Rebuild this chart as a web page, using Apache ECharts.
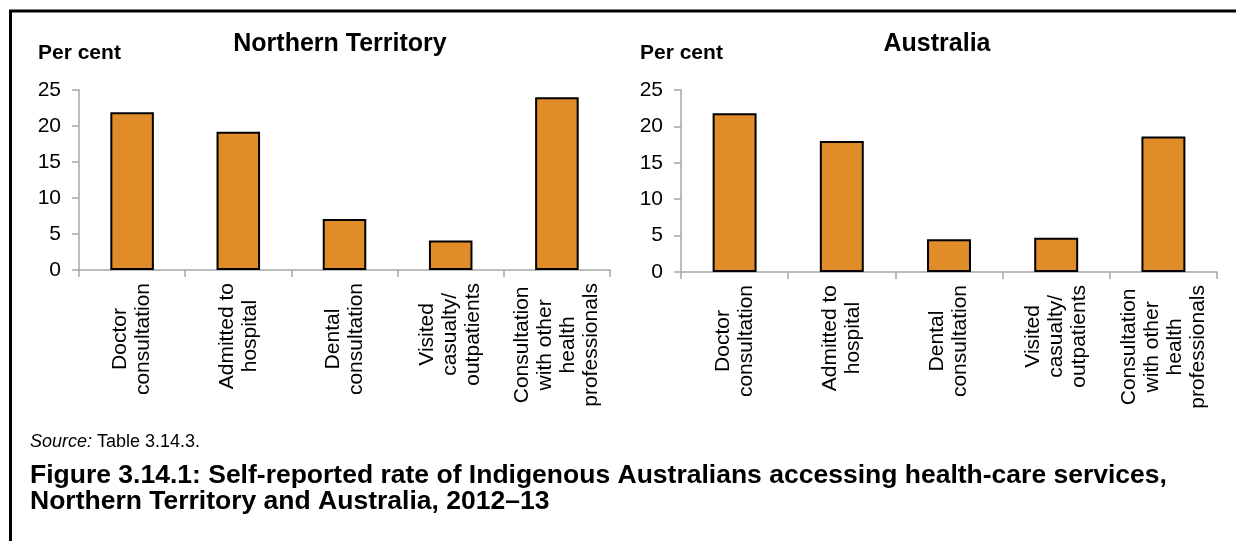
<!DOCTYPE html>
<html>
<head>
<meta charset="utf-8">
<script src="https://cdn.jsdelivr.net/npm/echarts@6/dist/echarts.min.js"></script>
<style>
  html, body { margin: 0; padding: 0; background: #ffffff; }
  #chart { width: 1236px; height: 541px; }
</style>
</head>
<body>
<div id="chart"></div>
<script>
const categories = [
  'Doctor\nconsultation',
  'Admitted to\nhospital',
  'Dental\nconsultation',
  'Visited\ncasualty/\noutpatients',
  'Consultation\nwith other\nhealth\nprofessionals'
];
const ntValues = [21.9, 19.2, 7.1, 4.1, 24.0];
const ausValues = [21.8, 18.0, 4.5, 4.7, 18.6];
const yMin = 0;
const yMax = 25;
const yInterval = 5;
const panelTitles = ['Northern Territory', 'Australia'];
const yAxisName = 'Per cent';
const sourceLabel = 'Source:';
const sourceText = ' Table 3.14.3.';
const captionLines = [
  'Figure 3.14.1: Self-reported rate of Indigenous Australians accessing health-care services,',
  'Northern Territory and Australia, 2012\u201313'
];

const FONT = '"Liberation Sans", Arial, sans-serif';
const AXIS_COLOR = '#A6A6A6';
const BAR_COLOR = '#E08C28';

const chart = echarts.init(document.getElementById('chart'), null, { renderer: 'canvas' });

function xAxisCfg(gridIndex) {
  return {
    type: 'category',
    gridIndex: gridIndex,
    data: categories,
    boundaryGap: true,
    axisLine: { show: true, lineStyle: { color: AXIS_COLOR, width: 1.5 } },
    axisTick: { show: true, alignWithLabel: false, length: 7, lineStyle: { color: AXIS_COLOR, width: 1.5 } },
    axisLabel: {
      interval: 0,
      rotate: 90,
      margin: 13,
      formatter: function (v) {
        return v.split('\n').map(function (s) { return '{a|' + s + '}'; }).join('\n');
      },
      rich: {
        a: { align: 'center', fontFamily: FONT, fontSize: 21, lineHeight: 23, color: '#000000' }
      }
    },
    splitLine: { show: false }
  };
}

function yAxisCfg(gridIndex) {
  return {
    type: 'value',
    gridIndex: gridIndex,
    min: yMin,
    max: yMax,
    interval: yInterval,
    axisLine: { show: true, lineStyle: { color: AXIS_COLOR, width: 1.5 } },
    axisTick: { show: true, length: 7, lineStyle: { color: AXIS_COLOR, width: 1.5 } },
    axisLabel: { fontFamily: FONT, fontSize: 21, color: '#000000', margin: 18 },
    splitLine: { show: false }
  };
}

function barSeries(idx, values) {
  return {
    type: 'bar',
    xAxisIndex: idx,
    yAxisIndex: idx,
    data: values,
    barCategoryGap: '59%',
    itemStyle: { color: BAR_COLOR, borderColor: '#000000', borderWidth: 2 },
    emphasis: { disabled: true },
    animation: false
  };
}

const option = {
  backgroundColor: '#ffffff',
  animation: false,
  title: [
    { text: panelTitles[0], left: 335, top: 27, textAlign: 'center',
      textStyle: { fontFamily: FONT, fontSize: 25, fontWeight: 'bold', color: '#000000' } },
    { text: panelTitles[1], left: 932, top: 27, textAlign: 'center',
      textStyle: { fontFamily: FONT, fontSize: 25, fontWeight: 'bold', color: '#000000' } },
    { text: yAxisName, left: 33, top: 38,
      textStyle: { fontFamily: FONT, fontSize: 21, fontWeight: 'bold', color: '#000000' } },
    { text: yAxisName, left: 635, top: 38,
      textStyle: { fontFamily: FONT, fontSize: 21, fontWeight: 'bold', color: '#000000' } },
    { text: '{i|' + sourceLabel + '}{n|' + sourceText + '}', left: 25, top: 428,
      textStyle: { rich: {
        i: { fontFamily: FONT, fontSize: 18, fontStyle: 'italic', fontWeight: 'normal', color: '#000000' },
        n: { fontFamily: FONT, fontSize: 18, fontWeight: 'normal', color: '#000000' }
      } } },
    { text: captionLines.join('\n'), left: 25, top: 458,
      textStyle: { fontFamily: FONT, fontSize: 26.5, fontWeight: 'bold', color: '#000000', lineHeight: 26 } }
  ],
  graphic: [
    { type: 'polyline', shape: { points: [[10.5, 541], [10.5, 11], [1236, 11]] },
      style: { stroke: '#000000', lineWidth: 3, fill: null }, silent: true }
  ],
  grid: [
    { left: 79, right: 1236 - 610, top: 90, height: 180, containLabel: false },
    { left: 681, right: 1236 - 1217, top: 90, height: 182, containLabel: false }
  ],
  xAxis: [xAxisCfg(0), xAxisCfg(1)],
  yAxis: [yAxisCfg(0), yAxisCfg(1)],
  series: [barSeries(0, ntValues), barSeries(1, ausValues)]
};

chart.setOption(option);
</script>
</body>
</html>
